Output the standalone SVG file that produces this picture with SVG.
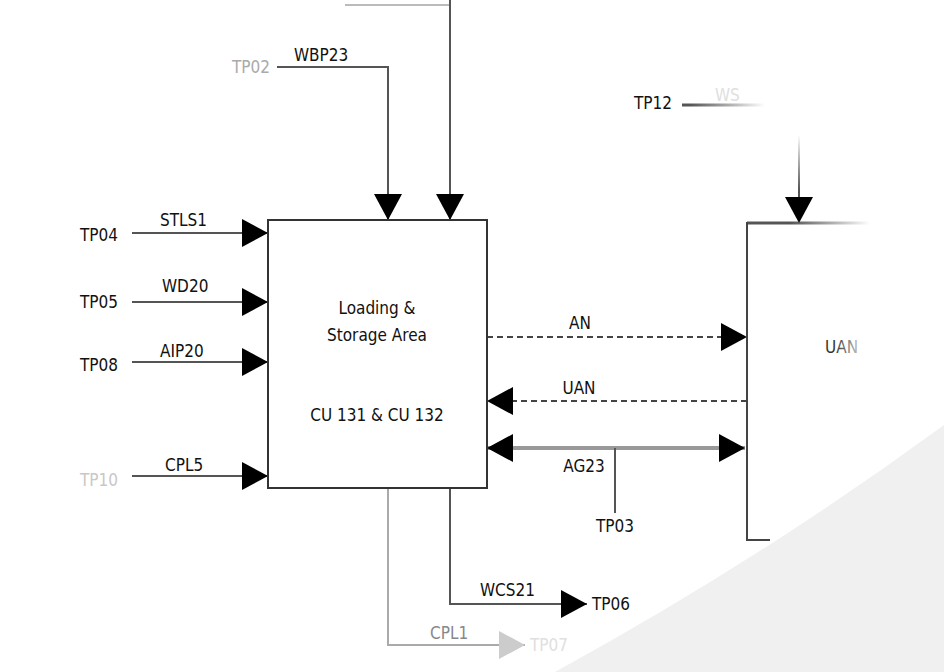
<svg xmlns="http://www.w3.org/2000/svg" width="944" height="672" viewBox="0 0 944 672">
<style>
text{font-family:"DejaVu Sans Condensed","Liberation Sans Narrow","Liberation Sans",sans-serif;font-size:17px;fill:#111}
.c{text-anchor:middle}
.ln{fill:none;stroke:#555;stroke-width:2}
.dash{fill:none;stroke:#444;stroke-width:2;stroke-dasharray:6 4}
.box{fill:#fff;stroke:#333;stroke-width:2}
text.f1{fill:#aaa}
text.f2{fill:#c8c8c8}
text.f3{fill:#888}
text.f4{fill:#e0e0e0}
text.fu{fill:url(#fadeTxt)}
</style>
<defs>
<marker id="ah" markerUnits="userSpaceOnUse" viewBox="0 0 26 28" refX="26" refY="14" markerWidth="26" markerHeight="28" orient="auto-start-reverse"><path d="M0,0 L26,14 L0,28 Z" fill="#000"/></marker>
<marker id="ahf" markerUnits="userSpaceOnUse" viewBox="0 0 26 28" refX="26" refY="14" markerWidth="26" markerHeight="28" orient="auto"><path d="M0,0 L26,14 L0,28 Z" fill="#ccc"/></marker>
<linearGradient id="fadeR1" gradientUnits="userSpaceOnUse" x1="690" y1="0" x2="765" y2="0"><stop offset="0" stop-color="#555"/><stop offset="1" stop-color="#555" stop-opacity="0"/></linearGradient>
<linearGradient id="fadeR2" gradientUnits="userSpaceOnUse" x1="790" y1="0" x2="870" y2="0"><stop offset="0" stop-color="#555"/><stop offset="1" stop-color="#555" stop-opacity="0"/></linearGradient>
<linearGradient id="fadeT" gradientUnits="userSpaceOnUse" x1="0" y1="190" x2="0" y2="135"><stop offset="0" stop-color="#555"/><stop offset="1" stop-color="#555" stop-opacity="0"/></linearGradient>
<linearGradient id="fadeTxt" gradientUnits="userSpaceOnUse" x1="825" y1="0" x2="870" y2="0"><stop offset="0.2" stop-color="#333"/><stop offset="1" stop-color="#333" stop-opacity="0"/></linearGradient>
</defs>
<rect width="944" height="672" fill="#fff"/>
<path d="M944,425 Q760,560 555,672 L944,672 Z" fill="#f0f0f0"/>

<g id="connectors">
<path class="ln" d="M277,67 H388 V220" marker-end="url(#ah)"/>
<path d="M345,5 H450" stroke="#bbb" stroke-width="2" fill="none"/>
<path class="ln" d="M450,0 V220" marker-end="url(#ah)"/>
<path class="ln" d="M132,233 H268" marker-end="url(#ah)"/>
<path class="ln" d="M132,302 H268" marker-end="url(#ah)"/>
<path class="ln" d="M132,362 H268" stroke-width="3" marker-end="url(#ah)"/>
<path class="ln" d="M132,476 H268" marker-end="url(#ah)"/>
<path class="dash" d="M487,337 H747" marker-end="url(#ah)"/>
<path class="dash" d="M747,401 H487" marker-end="url(#ah)"/>
<path d="M487,448 H745" stroke="#999" stroke-width="4" fill="none" marker-start="url(#ah)" marker-end="url(#ah)"/>
<path class="ln" d="M615,448 V513"/>
<path d="M682,105 H765" stroke="url(#fadeR1)" stroke-width="3" fill="none"/>
<path d="M799,135 V223" stroke="url(#fadeT)" stroke-width="2" fill="none" marker-end="url(#ah)"/>
<path class="ln" d="M450,488 V604 H587" marker-end="url(#ah)"/>
<path d="M388,488 V645 H525" stroke="#aaa" stroke-width="2" fill="none" marker-end="url(#ahf)"/>
</g>

<g id="main">
<rect class="box" x="268" y="220" width="219" height="268"/>
<text class="c" x="377" y="314">Loading &amp;</text>
<text class="c" x="377" y="341">Storage Area</text>
<text class="c" x="377" y="421">CU 131 &amp; CU 132</text>
</g>

<g id="uan">
<path d="M747,223 H870" stroke="url(#fadeR2)" stroke-width="3" fill="none"/>
<path d="M747,222 V540 H770" stroke="#444" stroke-width="2" fill="none"/>
<text class="fu" x="825" y="353">UAN</text>
</g>

<g id="labels">
<text class="f1" x="232" y="73">TP02</text>
<text x="294" y="61">WBP23</text>
<text x="80" y="241">TP04</text>
<text x="160" y="226">STLS1</text>
<text x="80" y="308">TP05</text>
<text x="162" y="292">WD20</text>
<text x="80" y="371">TP08</text>
<text x="160" y="357">AIP20</text>
<text class="f2" x="80" y="486">TP10</text>
<text x="165" y="471">CPL5</text>
<text class="c" x="580" y="329">AN</text>
<text class="c" x="579" y="394">UAN</text>
<text class="c" x="584" y="472">AG23</text>
<text class="c" x="615" y="532">TP03</text>
<text x="634" y="109">TP12</text>
<text class="f4" x="715" y="101">WS</text>
<text x="480" y="596">WCS21</text>
<text x="592" y="610">TP06</text>
<text class="f3" x="430" y="639">CPL1</text>
<text class="f4" x="530" y="651">TP07</text>
</g>
</svg>
